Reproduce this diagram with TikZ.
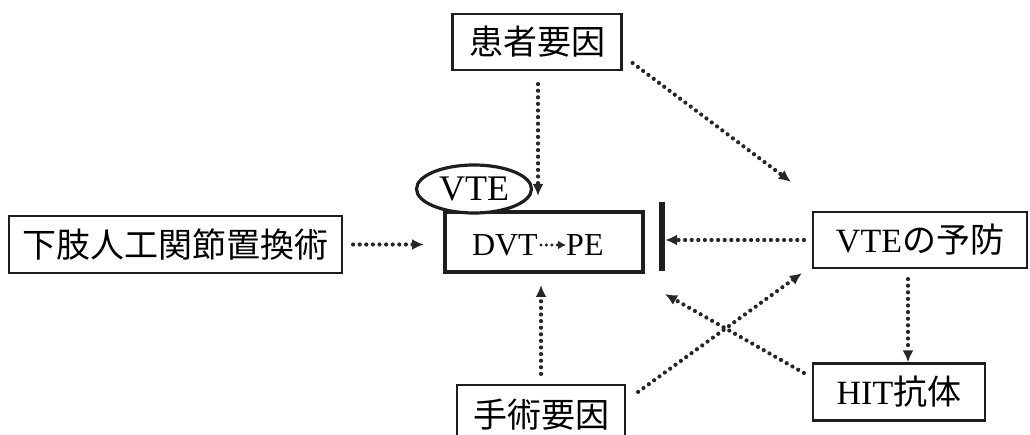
\documentclass[tikz,border=0pt]{standalone}
\usepackage{fontspec}
\setmainfont{Liberation Serif}
\newfontfamily\cjk{Noto Sans CJK JP}
\usetikzlibrary{shapes.geometric,arrows.meta,calc}
\definecolor{ink}{HTML}{1E1E1E}
\definecolor{dotink}{HTML}{262626}
\tikzset{
  box/.style={draw=ink, line width=2.2pt, rectangle, inner sep=0pt, font=\fontsize{34}{34}\selectfont},
  dotarrow/.style={draw=dotink, line width=4.2pt, line cap=round, dash pattern=on 0pt off 6.6pt,
    -{Latex[length=12pt,width=11pt]}},
}
\begin{document}
\begin{tikzpicture}[x=1pt,y=-1pt]
\useasboundingbox (0,0) rectangle (1030,435);
% boxes
\node[box, minimum width=169pt, minimum height=56pt] (kanja) at (537,42) {\cjk 患者要因};
\node[box, minimum width=333pt, minimum height=57pt] (kashi) at (175.5,244.5) {\cjk 下肢人工関節置換術};
\node[box, line width=4pt, minimum width=198pt, minimum height=60pt] (dvt) at (544,242) {};
\node[draw=ink, line width=3.2pt, ellipse, fill=white, inner sep=0pt, minimum width=115pt, minimum height=48pt,
  font=\fontsize{36}{36}\selectfont] (vte) at (474,189) {VTE};
\node[font=\fontsize{32}{32}\selectfont, inner sep=0pt, anchor=east] (dvtt) at (538,245) {DVT};
\node[font=\fontsize{32}{32}\selectfont, inner sep=0pt, anchor=west] (pe) at (566,245) {PE};
\node[fill=ink, rectangle, inner sep=0pt, minimum width=6pt, minimum height=69pt] (bar) at (662,237) {};
\node[box, minimum width=214pt, minimum height=56pt] (yobo) at (920,240) {VTE{\cjk の予防}};
\node[box, minimum width=172pt, minimum height=57pt] (hit) at (899,392) {HIT{\cjk 抗体}};
\node[box, minimum width=168pt, minimum height=60pt] (shujutsu) at (541,415) {\cjk 手術要因};
% connectors
\draw[dotarrow, shorten <=13pt, shorten >=14pt] ($(kanja.south)+(1,0)$) -- ($(kanja.south |- dvt.north)+(1,0)$);
\draw[dotarrow] ($(kanja.east)+(10,21)$) -- ($(yobo.north west)+(-21,-29)$);
\draw[dotarrow, shorten <=10pt, shorten >=19pt] (kashi.east) -- (kashi.east -| dvt.west);
\draw[dotarrow, line width=3.4pt, dash pattern=on 0pt off 5.4pt, -{Latex[length=8pt,width=9pt]}, shorten <=3pt] (dvtt.east) -- (pe.west);
\draw[dotarrow, shorten <=8pt] (yobo.west) -- (yobo.west -| bar.east);
\draw[dotarrow] ($(yobo.south)+(-12,10)$) -- ($(hit.north)+(9,0)$);
\draw[dotarrow] ($(hit.west)+(-8,-19)$) -- ($(dvt.south east)+(20,20)$);
\draw[dotarrow] ($(shujutsu.north east)+(12,8)$) -- ($(yobo.south west)+(-10,4)$);
\draw[dotarrow, shorten <=10pt, shorten >=11pt] (shujutsu.north) -- (shujutsu.north |- dvt.south);
\end{tikzpicture}
\end{document}
